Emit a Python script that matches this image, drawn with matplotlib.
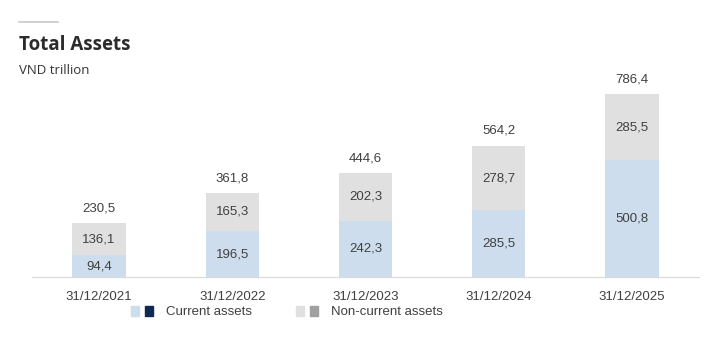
import matplotlib
matplotlib.use("Agg")
import matplotlib.pyplot as plt
import matplotlib.patches as mpatches
from matplotlib.legend_handler import HandlerTuple

dates = ["31/12/2021", "31/12/2022", "31/12/2023", "31/12/2024", "31/12/2025"]
current_assets = [94.4, 196.5, 242.3, 285.5, 500.8]
non_current_assets = [136.1, 165.3, 202.3, 278.7, 285.5]
totals = [230.5, 361.8, 444.6, 564.2, 786.4]

col_current = "#cedded"
col_current_dark = "#0e2a54"
col_noncurrent = "#e0e0e0"
col_noncurrent_dark = "#a0a0a0"
text_col = "#404040"


def fmt(v):
    return f"{v:.1f}".replace(".", ",")


plt.rcParams["font.family"] = ["Liberation Sans", "DejaVu Sans"]

W, H = 713, 344
fig = plt.figure(figsize=(W / 100, H / 100), dpi=100)
fig.patch.set_facecolor("white")

ax_left, ax_right = 32.4, 698.6
ax_bottom, ax_top = H - 277, H - 79
ax = fig.add_axes([ax_left / W, ax_bottom / H, (ax_right - ax_left) / W, (ax_top - ax_bottom) / H])

x = list(range(len(dates)))
ax.bar(x, current_assets, width=0.4, color=col_current, zorder=2)
ax.bar(x, non_current_assets, width=0.4, bottom=current_assets, color=col_noncurrent, zorder=2)

for i in x:
    c = current_assets[i]
    n = non_current_assets[i]
    ax.text(i, c / 2, fmt(c), ha="center", va="center", fontsize=9.5, color=text_col)
    ax.text(i, c + n / 2, fmt(n), ha="center", va="center", fontsize=9.5, color=text_col)
    ax.annotate(fmt(totals[i]), (i, c + n), xytext=(0, 10.5), textcoords="offset points",
                ha="center", va="center", fontsize=9.5, color=text_col)

ax.set_xlim(-0.5, 4.5)
ax.set_ylim(0, 850)
ax.set_xticks(x)
ax.set_xticklabels(dates, fontsize=9.5, color=text_col)
ax.tick_params(axis="x", length=0, pad=10)
ax.set_yticks([])
for s in ["top", "right", "left"]:
    ax.spines[s].set_visible(False)
ax.spines["bottom"].set_color("#d9d9d9")
ax.spines["bottom"].set_linewidth(0.8)

# header
fig.add_artist(plt.Line2D([19 / W, 58 / W], [1 - 22 / H, 1 - 22 / H], color="#c8c8c8", lw=1.2))
fig.text(19 / W, 1 - 45 / H, "Total Assets", fontsize=13.5, fontweight="bold", color="#2b2b2b",
         va="center", family=["Open Sans", "DejaVu Sans"])
fig.text(19 / W, 1 - 71 / H, "VND trillion", fontsize=9.5, color="#333333",
         va="center", family=["Open Sans", "DejaVu Sans"])

# legend
h_cur = (mpatches.Patch(color=col_current), mpatches.Patch(color=col_current_dark))
h_non = (mpatches.Patch(color=col_noncurrent), mpatches.Patch(color=col_noncurrent_dark))
leg = fig.legend([h_cur, h_non], ["Current assets", "Non-current assets"],
                 handler_map={tuple: HandlerTuple(ndivide=None, pad=0.5)},
                 loc="center", bbox_to_anchor=(287 / W, 1 - 312 / H), ncol=2, frameon=False,
                 fontsize=9.5, handlelength=1.7, handleheight=0.8, handletextpad=1.0,
                 columnspacing=3.3, labelcolor=text_col)

fig.savefig("out.png", dpi=100)
